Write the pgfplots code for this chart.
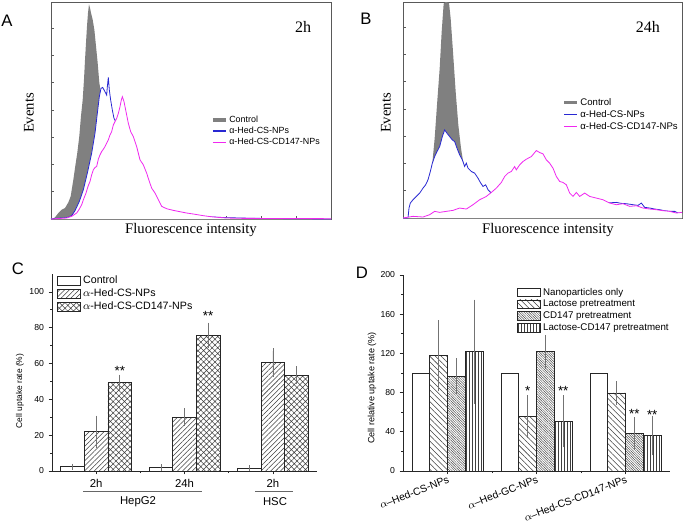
\documentclass[border=0pt]{standalone}
\usepackage{fontspec}
\setmainfont{Liberation Sans}
\newfontfamily\serif{Liberation Serif}
\usepackage{pgfplots}
\pgfplotsset{compat=1.18}
\usepackage{pgfplotstable}
\usetikzlibrary{patterns,patterns.meta}

\definecolor{fcblue}{RGB}{40,40,210}
\definecolor{fcmag}{RGB}{240,40,240}
\definecolor{fcgray}{RGB}{128,128,128}

% flow cytometry histograms (x, y in arbitrary channel units)
\pgfplotstableread{
x y
153 0
158 0
165 5
175 18
185 28
195 33
205 50
212 68
220 118
226 160
232 200
238 250
243 310
248 358
252 420
255 478
258 530
261 580
264 620
267 646
270 635
273 620
278 600
283 570
288 520
293 470
298 410
302 385
306 330
312 260
320 160
330 70
345 15
360 0
993 0
}\ctrlA
\pgfplotstableread{
x y
153 0
165 2
190 3
205 5
215 10
225 25
238 53
250 88
262 138
275 198
285 258
292 318
298 368
303 393
308 396
315 383
320 373
322 398
325 426
328 388
332 358
337 328
342 303
346 295
352 303
360 300
367 295
375 280
385 250
395 220
410 180
430 140
450 90
470 50
500 25
540 15
600 8
680 4
760 2
993 0
}\blueA
\pgfplotstableread{
x y
153 0
200 3
215 8
230 18
238 30
245 43
252 63
258 78
264 98
270 113
275 133
280 148
285 155
290 158
295 180
300 193
305 203
310 210
315 218
320 228
325 238
330 253
335 263
340 283
345 293
350 303
355 318
360 338
364 358
367 368
372 353
378 323
385 288
392 263
400 248
410 218
420 178
430 163
440 138
448 113
455 93
465 78
475 58
485 38
500 31
520 26
540 22
560 18
580 15
610 10
640 6
680 3
720 2
993 1
}\magA
\pgfplotstableread{
x y
190 0
240 0
262 100
270 125
278 165
285 240
292 340
300 450
306 560
312 645
318 650
328 648
333 600
340 500
348 380
356 280
364 210
372 160
380 120
395 60
420 0
1027 0
}\ctrlB
\pgfplotstableread{
x y
190 0
205 0
208 30
212 45
220 55
230 65
240 75
250 90
258 100
265 115
272 140
278 165
285 185
292 200
300 215
308 245
315 265
322 255
330 245
338 235
345 230
352 210
360 190
368 175
375 155
380 165
385 150
395 140
405 135
415 120
422 107
430 95
438 100
445 85
455 75
465 60
480 50
500 40
540 35
600 35
650 33
700 35
760 40
800 45
830 47
845 44
860 43
880 40
895 38
905 45
915 32
930 30
945 27
960 25
975 22
990 20
1005 20
1015 15
1027 13
}\blueB
\pgfplotstableread{
x y
190 0
220 5
250 3
270 10
285 20
300 17
320 20
340 23
360 30
380 27
400 40
420 55
440 65
455 77
470 90
485 107
495 125
505 135
515 140
525 155
530 145
540 160
550 170
560 177
575 185
590 203
600 197
610 193
620 175
630 165
640 150
650 125
660 110
670 107
680 100
690 75
700 65
710 77
720 65
735 75
750 65
770 60
790 55
810 45
830 40
850 43
870 35
890 37
910 30
930 27
950 25
970 22
990 20
1010 15
1027 17
}\magB

\pgfplotsset{
  flow/.style={scale only axis, anchor=south west,
    axis line style={black!65, line width=0.6pt},
    tick align=inside, xtick pos=bottom, ytick pos=left,
    xticklabels={}, yticklabels={}, major tick length=2pt,
    tick style={black!65, line width=0.4pt}, ymin=0,
    legend cell align=left,
    legend style={draw=none, fill=none, anchor=north west, inner sep=0pt,
      column sep=1.5pt, nodes={inner sep=0pt}},
    legend image code/.code={\draw[##1] (0pt,0pt) -- (9.5pt,0pt);}},
  bars/.style={scale only axis, anchor=south west,
    axis x line*=bottom, axis y line*=left,
    axis line style={black!85, line width=0.6pt},
    tick style={black!85, line width=0.5pt}, tick align=outside,
    major tick length=2.5pt, minor tick length=1.5pt,
    xmin=-0.5, xmax=2.5, xtick={0,1,2}, minor xtick={0.5,1.5}, ymin=0,
    /pgf/number format/assume math mode=true, ybar,
    legend cell align=left,
    legend style={draw=none, fill=none, anchor=north west, inner sep=0pt,
      column sep=2pt},
    legend image code/.code={\draw[##1] (0pt,-3.2pt) rectangle (17pt,3.2pt);}},
  eb/.style={error bars/.cd, y dir=both, y explicit,
    error bar style={black!55, line width=0.4pt},
    error mark options={black!55, line width=0.4pt, mark size=2pt}},
  bar/.style={draw=black!85, line width=0.5pt, forget plot},
}

\begin{document}
\begin{tikzpicture}
\def\pxu{0.75pt}
\useasboundingbox (0,0) rectangle (685*\pxu,-526*\pxu);

% ---------- A ----------
\begin{axis}[flow, at={(51*\pxu,-219*\pxu)}, width=210pt, height=162.75pt,
  xmin=153, xmax=993, ymax=653,
  xtick={258,363,...,888}, ytick={82,164,...,574},
  legend style={at={(0.571,0.479)}, font=\fontsize{6.7}{7}\selectfont,
    row sep=1.6pt, nodes={text height=5.3pt, text depth=1.5pt}}]
\addplot[fill=fcgray, draw=none, forget plot] table {\ctrlA} \closedcycle;
\addplot[fill=white, draw=none, forget plot] table {\blueA} \closedcycle;
\addplot[fcblue, line width=0.6pt, forget plot] table {\blueA};
\addplot[fill=white, draw=none, forget plot] table {\magA} \closedcycle;
\addplot[fcmag, line width=0.6pt, forget plot] table {\magA};
\addlegendimage{fcgray, line width=2.6pt}
\addlegendimage{fcblue, line width=0.9pt}
\addlegendimage{fcmag, line width=0.9pt}
\legend{Control, α-Hed-CS-NPs, α-Hed-CS-CD147-NPs}
\node[font=\serif\fontsize{12}{12}\selectfont] at (rel axis cs:0.9,0.885) {2h};
\end{axis}

% ---------- B ----------
\begin{axis}[flow, at={(403*\pxu,-218*\pxu)}, width=209.25pt, height=162pt,
  xmin=190, xmax=1027, ymax=650,
  xtick={294,399,...,924}, ytick={82,164,...,574},
  legend style={at={(0.57,0.56)}, font=\fontsize{7.2}{8}\selectfont,
    row sep=1.8pt, nodes={text height=5.8pt, text depth=1.6pt}}]
\addplot[fill=fcgray, draw=none, forget plot] table {\ctrlB} \closedcycle;
\addplot[fill=white, draw=none, forget plot] table {\blueB} \closedcycle;
\addplot[fcblue, line width=0.6pt, forget plot] table {\blueB};
\addplot[fill=white, draw=none, forget plot] table {\magB} \closedcycle;
\addplot[fcmag, line width=0.6pt, forget plot] table {\magB};
\addlegendimage{fcgray, line width=2.6pt}
\addlegendimage{fcblue, line width=0.9pt}
\addlegendimage{fcmag, line width=0.9pt}
\legend{Control, α-Hed-CS-NPs, α-Hed-CS-CD147-NPs}
\node[font=\serif\fontsize{12}{12}\selectfont] at (rel axis cs:0.878,0.884) {24h};
\end{axis}

% ---------- C ----------
\begin{axis}[bars, at={(52*\pxu,-471*\pxu)}, width=198.75pt, height=147.75pt,
  ymax=110, ytick={0,20,...,100}, minor ytick={10,30,...,90},
  bar width=0.267, xticklabels={2h,24h,2h},
  yticklabel style={font=\fontsize{6.5}{7}\selectfont},
  xticklabel style={font=\fontsize{8.5}{9}\selectfont},
  legend style={at={(0.019,0.995)}, font=\fontsize{8}{8}\selectfont,
    row sep=1.4pt, nodes={inner sep=0pt, text height=6.5pt, text depth=1.8pt}}]
\addplot[bar, fill=white, bar shift=-0.267, eb] coordinates
  {(0,2.4) +- (0,0.3) (1,1.9) +- (0,0.3) (2,1.5) +- (0,0.2)};
\addplot[bar, pattern={Lines[angle=45,distance=2.6pt,line width=0.4pt]},
  pattern color=black!75, bar shift=0, eb] coordinates
  {(0,22) +- (0,7.5) (1,30) +- (0,3.5) (2,60.5) +- (0,6.5)};
\addplot[bar, pattern={Hatch[angle=45,distance=3pt,line width=0.4pt]},
  pattern color=black!75, bar shift=0.267, eb] coordinates
  {(0,49.3) +- (0,3) (1,75.7) +- (0,5.7) (2,53.4) +- (0,3.5)};
\addlegendimage{draw=black!85, fill=white}
\addlegendimage{draw=black!85, pattern={Lines[angle=45,distance=2.6pt,line width=0.4pt]}, pattern color=black!75}
\addlegendimage{draw=black!85, pattern={Hatch[angle=45,distance=3pt,line width=0.4pt]}, pattern color=black!75}
\legend{Control, $\alpha$-Hed-CS-NPs, $\alpha$-Hed-CS-CD147-NPs}
\node[font=\fontsize{10}{10}\selectfont] at (axis cs:0.267,56) {**};
\node[font=\fontsize{10}{10}\selectfont] at (axis cs:1.267,86.5) {**};
\end{axis}

% ---------- D ----------
\begin{axis}[bars, at={(403*\pxu,-471*\pxu)}, width=200.25pt, height=147pt,
  ymax=200, ytick={0,40,...,200}, minor ytick={20,60,...,180},
  bar width=0.2,
  xticklabels={$\alpha$--Hed-CS-NPs, $\alpha$--Hed-GC-NPs, $\alpha$--Hed-CS-CD147-NPs},
  yticklabel style={font=\fontsize{6.5}{7}\selectfont},
  xticklabel style={font=\fontsize{7.8}{8}\selectfont, rotate=21,
    anchor=north east, inner sep=0.5pt},
  legend style={at={(0.427,0.939)}, font=\fontsize{7.3}{8}\selectfont,
    row sep=1.2pt, nodes={inner sep=0pt, text height=6pt, text depth=1.6pt}}]
\addplot[bar, fill=white, bar shift=-0.3] coordinates
  {(0,100) (1,100) (2,100)};
\addplot[bar, pattern={Lines[angle=-45,distance=3pt,line width=0.4pt]},
  pattern color=black!75, bar shift=-0.1, eb] coordinates
  {(0,117.6) +- (0,33.5) (1,55.6) +- (0,19) (2,79.7) +- (0,9.3)};
\addplot[bar, pattern={Lines[angle=-45,distance=1.3pt,line width=0.35pt]},
  pattern color=black!70, bar shift=0.1, eb] coordinates
  {(0,96.6) +- (0,15.5) (1,121.7) +- (0,14.6) (2,38) +- (0,14)};
\addplot[bar, pattern={Lines[angle=90,distance=2.3pt,line width=0.4pt]},
  pattern color=black!75, bar shift=0.3, eb] coordinates
  {(0,121.7) +- (0,50.5) (1,50.8) +- (0,24) (2,36.3) +- (0,17.6)};
\addlegendimage{draw=black!85, fill=white}
\addlegendimage{draw=black!85, pattern={Lines[angle=-45,distance=3pt,line width=0.4pt]}, pattern color=black!75}
\addlegendimage{draw=black!85, pattern={Lines[angle=-45,distance=1.3pt,line width=0.35pt]}, pattern color=black!70}
\addlegendimage{draw=black!85, pattern={Lines[angle=90,distance=2.3pt,line width=0.4pt]}, pattern color=black!75}
\legend{Nanoparticles only, Lactose pretreatment, CD147 pretreatment, Lactose-CD147 pretreatment}
\node[font=\fontsize{10}{10}\selectfont] at (axis cs:0.9,82) {*};
\node[font=\fontsize{10}{10}\selectfont] at (axis cs:1.3,82) {**};
\node[font=\fontsize{10}{10}\selectfont] at (axis cs:2.1,58.5) {**};
\node[font=\fontsize{10}{10}\selectfont] at (axis cs:2.3,57) {**};
\end{axis}

% ---------- free text ----------
\begin{scope}[x=0.75pt, y=-0.75pt]
\node[font=\fontsize{12.5}{13}\selectfont] at (7,21) {A};
\node[font=\fontsize{12.5}{13}\selectfont] at (366,19) {B};
\node[font=\fontsize{12.5}{13}\selectfont] at (18,269) {C};
\node[font=\fontsize{12.5}{13}\selectfont] at (362,273) {D};
\node[font=\serif\fontsize{11}{11}\selectfont, rotate=90] at (29,113) {Events};
\node[font=\serif\fontsize{11}{11}\selectfont] at (191,230) {Fluorescence intensity};
\node[font=\serif\fontsize{11}{11}\selectfont, rotate=90] at (386,113) {Events};
\node[font=\serif\fontsize{11}{11}\selectfont] at (548,230) {Fluorescence intensity};
\node[font=\fontsize{6.3}{7}\selectfont, rotate=90] at (20,391) {Cell uptake rate (\%)};
\node[font=\fontsize{6.8}{7}\selectfont, rotate=90] at (372,388) {Cell relative uptake rate (\%)};
\draw[black!60, line width=0.5pt] (83,491) -- (202,491);
\draw[black!60, line width=0.5pt] (255,491) -- (293,491);
\node[font=\fontsize{8.5}{9}\selectfont] at (138,502) {HepG2};
\node[font=\fontsize{8.5}{9}\selectfont] at (275,502) {HSC};
\end{scope}
\end{tikzpicture}
\end{document}
